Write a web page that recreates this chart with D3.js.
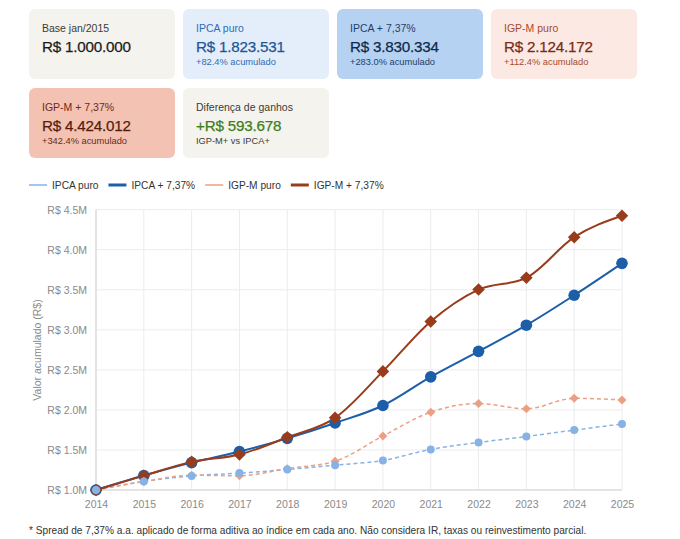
<!DOCTYPE html>
<html lang="pt-BR">
<head>
    <meta charset="UTF-8">
    <title>IPCA vs IGP-M + 7,37%</title>
    <script src="https://d3js.org/d3.v7.min.js"></script>
    <style>
        body { margin: 0; background: #fff; }
        svg { display: block; font-family: "Liberation Sans", Arial, sans-serif; }
        .grid line { stroke: #ececec; stroke-width: 1; }
        .axis text { fill: #8a8a8a; font-size: 10.5px; }
        .axis path, .axis line { stroke: none; }
    </style>
</head>
<body>
<svg id="chart" width="680" height="539"></svg>

<script>
    // dados
    const years = [2014, 2015, 2016, 2017, 2018, 2019, 2020, 2021, 2022, 2023, 2024, 2025];
    const ipcaPuro   = [1000000, 1107000, 1176000, 1211000, 1256000, 1310000, 1369000, 1507000, 1594000, 1668000, 1748000, 1823531];
    const ipcaSpread = [1000000, 1180000, 1342000, 1480000, 1645000, 1837000, 2055000, 2413000, 2731000, 3058000, 3432000, 3830334];
    const igpmPuro   = [1000000, 1105000, 1184000, 1178000, 1267000, 1360000, 1674000, 1972000, 2080000, 2014000, 2145000, 2124172];
    const igpmSpread = [1000000, 1179000, 1351000, 1443000, 1658000, 1901000, 2481000, 3105000, 3503000, 3650000, 4157000, 4424012];
    const base = 1000000;

    const seriesNames = ["IPCA puro", "IPCA + 7,37%", "IGP-M puro", "IGP-M + 7,37%"];
    const yTicks = [1000000, 1500000, 2000000, 2500000, 3000000, 3500000, 4000000, 4500000];
    const footnote = "* Spread de 7,37% a.a. aplicado de forma aditiva ao índice em cada ano. Não considera IR, taxas ou reinvestimento parcial.";

    const svg = d3.select("#chart");

    // formatação
    const fmtBRL = v => "R$ " + Math.round(v).toString().replace(/\B(?=(\d{3})+(?!\d))/g, ".");
    const fmtPct = v => "+" + ((v / base - 1) * 100).toFixed(1) + "% acumulado";
    const last = arr => arr[arr.length - 1];

    // cartões
    const cards = [
        { label: "Base jan/2015", value: fmtBRL(base), sub: "", bg: "#f5f3ee", lc: "#3b3b3b", vc: "#1b1b1b", sc: "#3b3b3b" },
        { label: seriesNames[0], value: fmtBRL(last(ipcaPuro)), sub: fmtPct(last(ipcaPuro)), bg: "#e4eefb", lc: "#2f6cb6", vc: "#1f5597", sc: "#2f6cb6" },
        { label: seriesNames[1], value: fmtBRL(last(ipcaSpread)), sub: fmtPct(last(ipcaSpread)), bg: "#b6d2f2", lc: "#1d3f6b", vc: "#10294b", sc: "#1d3f6b" },
        { label: seriesNames[2], value: fmtBRL(last(igpmPuro)), sub: fmtPct(last(igpmPuro)), bg: "#fce9e3", lc: "#a94a2c", vc: "#782c16", sc: "#a94a2c" },
        { label: seriesNames[3], value: fmtBRL(last(igpmSpread)), sub: fmtPct(last(igpmSpread)), bg: "#f3c2b3", lc: "#6b2b18", vc: "#571d0c", sc: "#6b2b18" },
        { label: "Diferença de ganhos", value: "+" + fmtBRL(last(igpmSpread) - last(ipcaSpread)), sub: "IGP-M+ vs IPCA+", bg: "#f5f3ee", lc: "#3b3b3b", vc: "#3f7d20", sc: "#3b3b3b" }
    ];

    const cardW = 146, cardH = 70, gapX = 8, gapY = 9;
    const card = svg.selectAll("g.card").data(cards).join("g")
        .attr("class", "card")
        .attr("transform", (d, i) => `translate(${29 + (i % 4) * (cardW + gapX)},${9 + Math.floor(i / 4) * (cardH + gapY)})`);
    card.append("rect").attr("width", cardW).attr("height", cardH).attr("rx", 6).attr("fill", d => d.bg);
    card.append("text").attr("x", 13).attr("y", 23).attr("font-size", 10.5).attr("fill", d => d.lc).text(d => d.label);
    card.append("text").attr("x", 13).attr("y", 43).attr("font-size", 15.2).attr("font-weight", 500)
        .attr("letter-spacing", -0.2).attr("stroke", d => d.vc).attr("stroke-width", 0.25)
        .attr("fill", d => d.vc).text(d => d.value);
    card.append("text").attr("x", 13).attr("y", 56).attr("font-size", 9.3).attr("fill", d => d.sc).text(d => d.sub);

    // estilos das séries
    const series = [
        { name: seriesNames[1], values: ipcaSpread, color: "#1d5ea8", dash: null, width: 2, shape: "circle", size: 5.8 },
        { name: seriesNames[3], values: igpmSpread, color: "#983c1c", dash: null, width: 2, shape: "diamond", size: 5.6 },
        { name: seriesNames[2], values: igpmPuro, color: "#eb9f85", dash: "4,3", width: 1.5, shape: "diamond", size: 4 },
        { name: seriesNames[0], values: ipcaPuro, color: "#86b2e6", dash: "4,3", width: 1.5, shape: "circle", size: 4 }
    ];

    // legenda
    const legendOrder = [3, 0, 2, 1];
    let lx = 29;
    legendOrder.forEach(i => {
        const s = series[i];
        const g = svg.append("g").attr("transform", `translate(${lx},185)`);
        g.append("line").attr("x1", 0).attr("x2", 18).attr("stroke", s.color).attr("stroke-width", s.dash ? 1.5 : 3);
        const t = g.append("text").attr("x", 23).attr("y", 3.5).attr("font-size", 10.2).attr("fill", "#333").text(s.name);
        lx += 23 + t.node().getComputedTextLength() + 10;
    });

    // escalas
    const x = d3.scaleLinear().domain([2014, 2025]).range([96, 622]);
    const y = d3.scaleLinear().domain([1000000, 4500000]).range([490, 209.7]);

    // grade
    const grid = svg.append("g").attr("class", "grid");
    grid.selectAll("line.h").data(yTicks).join("line").attr("class", "h")
        .attr("x1", x(2014)).attr("x2", x(2025)).attr("y1", d => y(d)).attr("y2", d => y(d));
    grid.selectAll("line.v").data(years).join("line").attr("class", "v")
        .attr("x1", d => x(d)).attr("x2", d => x(d)).attr("y1", y(4500000)).attr("y2", y(1000000));
    svg.append("line").attr("x1", x(2014)).attr("x2", x(2014)).attr("y1", y(4500000)).attr("y2", y(1000000))
        .attr("stroke", "#dedede").attr("stroke-width", 1.5);
    svg.append("line").attr("x1", x(2014)).attr("x2", x(2025)).attr("y1", y(1000000)).attr("y2", y(1000000))
        .attr("stroke", "#dedede").attr("stroke-width", 1.5);

    // eixos
    svg.append("g").attr("class", "axis").attr("transform", `translate(${x(2014)},0)`)
        .call(d3.axisLeft(y).tickValues(yTicks).tickSize(0).tickPadding(9)
            .tickFormat(d => "R$ " + (d / 1000000).toFixed(1) + "M"));
    svg.append("g").attr("class", "axis").attr("transform", `translate(0,${y(1000000)})`)
        .call(d3.axisBottom(x).tickValues(years).tickSize(0).tickPadding(11).tickFormat(d3.format("d")));

    svg.append("text").attr("transform", `translate(41,350) rotate(-90)`).attr("text-anchor", "middle")
        .attr("font-size", 10.5).attr("fill", "#8a8a8a").text("Valor acumulado (R$)");

    // linhas
    const line = d3.line().x((d, i) => x(years[i])).y(d => y(d)).curve(d3.curveMonotoneX);
    const diamond = d3.symbol().type(d3.symbolDiamond2);

    series.slice().reverse().forEach(s => {
        if (s.dash) {
            svg.append("path").attr("d", line(s.values)).attr("fill", "none")
                .attr("stroke", s.color).attr("stroke-width", s.width).attr("stroke-dasharray", s.dash);
        }
    });
    series.forEach(s => {
        if (!s.dash) {
            svg.append("path").attr("d", line(s.values)).attr("fill", "none")
                .attr("stroke", s.color).attr("stroke-width", s.width);
        }
    });

    // marcadores
    series.forEach(s => {
        const g = svg.append("g");
        if (s.shape === "circle") {
            g.selectAll("circle").data(s.values).join("circle")
                .attr("cx", (d, i) => x(years[i])).attr("cy", d => y(d)).attr("r", s.size).attr("fill", s.color);
        } else {
            g.selectAll("path").data(s.values).join("path")
                .attr("transform", (d, i) => `translate(${x(years[i])},${y(d)})`)
                .attr("d", diamond.size(s.size * s.size * 3.2)()).attr("fill", s.color);
        }
    });

    // nota
    svg.append("text").attr("x", 29).attr("y", 534).attr("font-size", 10.15).attr("fill", "#333").text(footnote);
</script>
</body>
</html>
